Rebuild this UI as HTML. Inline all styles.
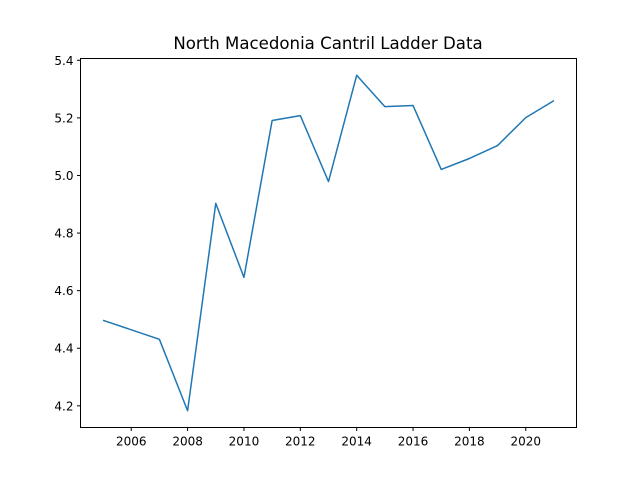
<!DOCTYPE html>
<html><head><meta charset="utf-8"><style>body{margin:0;background:#fff}svg{display:block;font-family:"DejaVu Sans","Liberation Sans",sans-serif}</style></head>
<body>
<svg id="chart" width="640" height="480">
<rect x="0" y="0" width="640" height="480" fill="#fff"/>
<text x="328" y="49" font-size="16.6" text-anchor="middle">North Macedonia Cantril Ladder Data</text>
<g id="xticks"></g>
<g id="yticks"></g>
<path id="line" fill="none" stroke="#1f77b4" stroke-width="1.5" stroke-linejoin="round"/>
<rect x="80.5" y="58.5" width="496" height="369" fill="none" stroke="#000" stroke-width="1"/>
</svg>
<script>
const years = [2005,2007,2008,2009,2010,2011,2012,2013,2014,2015,2016,2017,2018,2019,2020,2021];
const values = [4.497,4.431,4.183,4.903,4.646,5.191,5.208,4.979,5.348,5.239,5.243,5.021,5.059,5.104,5.201,5.260];
const xTickLabels = [2006,2008,2010,2012,2014,2016,2018,2020];
const yTickLabels = [4.2,4.4,4.6,4.8,5.0,5.2,5.4];
const L=80.5,R=576.5,T=58.5,B=427.5;
const xmin=Math.min(...years),xmax=Math.max(...years),xm=(xmax-xmin)*0.05;
const ymin=Math.min(...values),ymax=Math.max(...values),ym=(ymax-ymin)*0.05;
const x=v=>L+(v-(xmin-xm))/((xmax+xm)-(xmin-xm))*(R-L);
const y=v=>B-(v-(ymin-ym))/((ymax+ym)-(ymin-ym))*(B-T);
const ns="http://www.w3.org/2000/svg";
const xg=document.getElementById('xticks'),yg=document.getElementById('yticks');
xTickLabels.forEach(t=>{
  const l=document.createElementNS(ns,'line');
  
  
  l.setAttribute('x1',x(t));l.setAttribute('x2',x(t));l.setAttribute('y1',B);l.setAttribute('y2',B+3.5);l.setAttribute('stroke','#000');
  xg.appendChild(l);
  const s=document.createElementNS(ns,'text');
  
  
  s.setAttribute('x',x(t));s.setAttribute('y',B+18);s.setAttribute('font-size','12');s.setAttribute('text-anchor','middle');
  s.textContent=t;xg.appendChild(s);
});
yTickLabels.forEach(t=>{
  const l=document.createElementNS(ns,'line');
  
  
  l.setAttribute('x1',L-3.5);l.setAttribute('x2',L);l.setAttribute('y1',y(t));l.setAttribute('y2',y(t));l.setAttribute('stroke','#000');
  yg.appendChild(l);
  const s=document.createElementNS(ns,'text');
  
  
  s.setAttribute('x',L-7);s.setAttribute('y',y(t)+4.5);s.setAttribute('font-size','12');s.setAttribute('text-anchor','end');
  s.textContent=t.toFixed(1);yg.appendChild(s);
});
document.getElementById('line').setAttribute('d',years.map((v,i)=>(i?'L':'M')+x(v).toFixed(2)+','+y(values[i]).toFixed(2)).join(' '));
</script>
</body></html>
